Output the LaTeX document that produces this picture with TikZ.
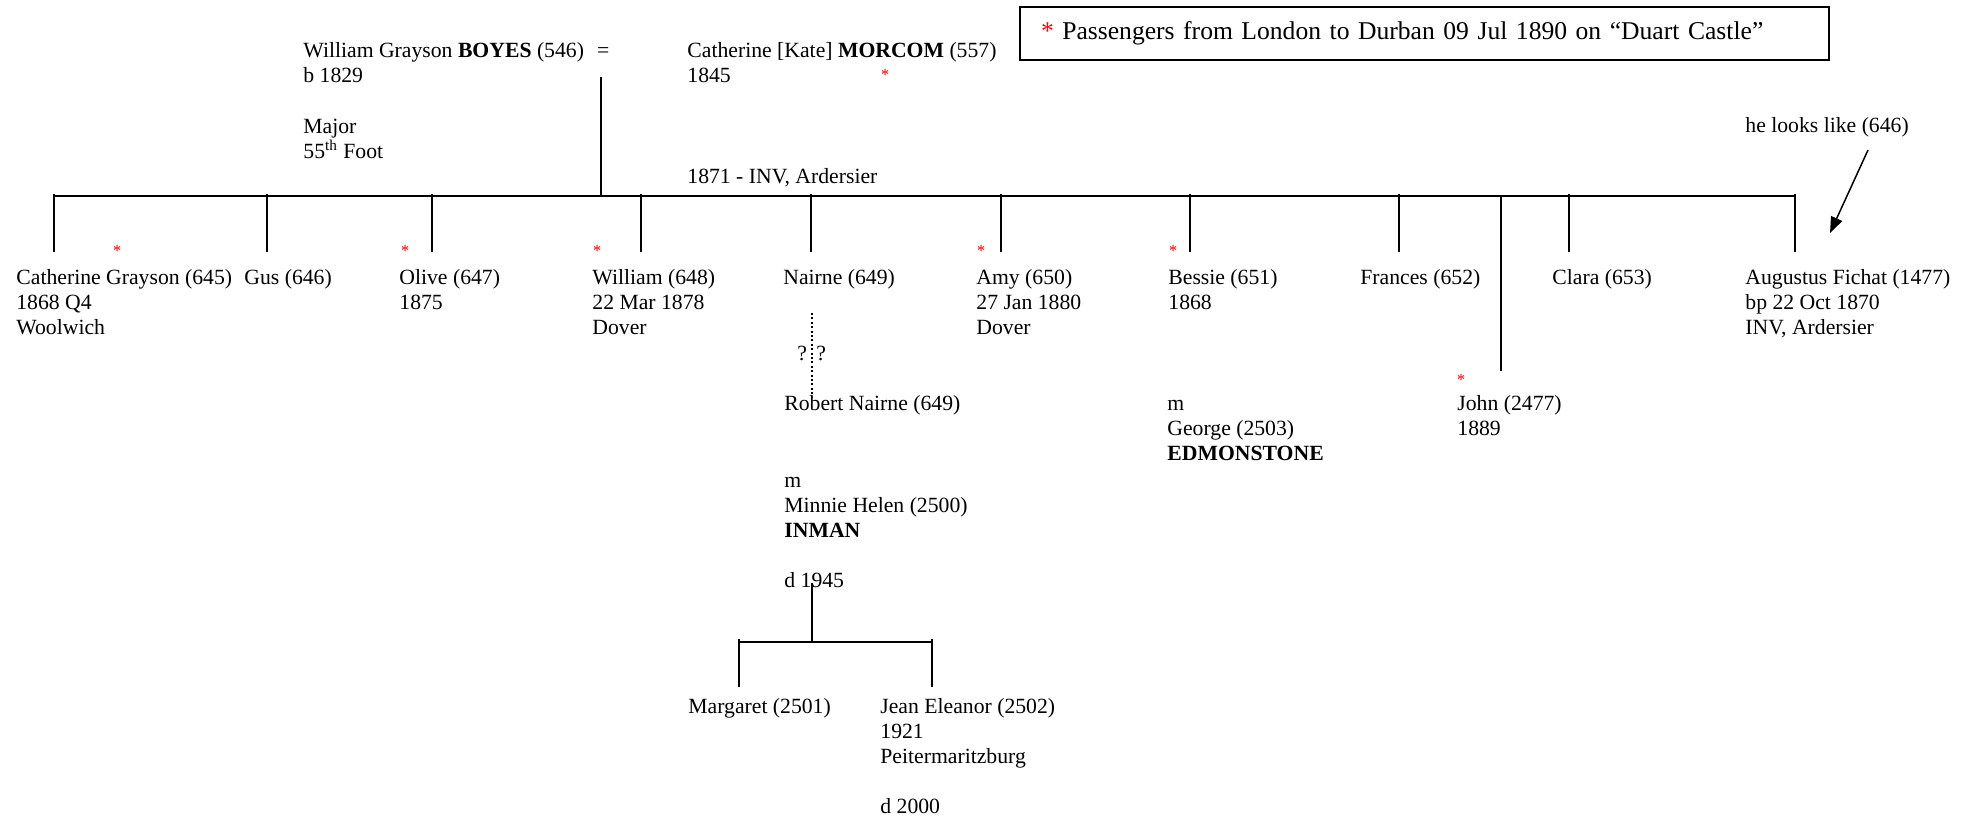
\documentclass[tikz,border=0pt]{standalone}
\usepackage{fontspec}
\setmainfont{Liberation Serif}
\usetikzlibrary{arrows.meta}
\definecolor{starcol}{RGB}{255,0,0}

\begin{document}
\begin{tikzpicture}[x=0.5pt, y=-0.5pt,
  person/.style={anchor=base west, inner sep=0pt, align=left, font=\fontsize{10.85}{12.5}\selectfont},
  passenger/.style={anchor=base, inner sep=0pt, text=starcol, font=\fontsize{8.5}{9}\selectfont},
  famline/.style={line width=1pt},
  keybox/.style={draw, line width=1pt, anchor=west, inner xsep=10.5pt, inner ysep=0pt, align=left,
    text width=383.5pt, minimum height=26.7pt, font=\fontsize{12.8}{14}\selectfont}]
\useasboundingbox (0,0) rectangle (1971,821);

% parents (a node sits on the baseline of its last line)
\node[person] (boyes) at (303,82) {William Grayson \textbf{BOYES} (546)\hspace{0.6em}=\\b 1829};
\node[person] (major) at (303,158) {Major\\55\textsuperscript{th} Foot};
\node[person] (morcom) at (687,82) {Catherine [Kate] \textbf{MORCOM} (557)\\1845};
\node[passenger] (star-morcom) at (885,80) {*};
\node[person] (wedding) at (687,183) {1871 - INV, Ardersier};

% key
\node[keybox] (key) at (1019,33.5) {\textcolor{starcol}{*} Passengers from London to Durban 09 Jul 1890 on “Duart Castle”};

% children
\node[person] (cath) at (16,334) {Catherine Grayson (645)\\1868 Q4\\Woolwich};
\node[person] (gus) at (244,284) {Gus (646)};
\node[person] (olive) at (399,309) {Olive (647)\\1875};
\node[person] (will) at (592,334) {William (648)\\22 Mar 1878\\Dover};
\node[person] (nairne) at (783,284) {Nairne (649)};
\node[person] (amy) at (976,334) {Amy (650)\\27 Jan 1880\\Dover};
\node[person] (bessie) at (1168,309) {Bessie (651)\\1868};
\node[person] (frances) at (1360,284) {Frances (652)};
\node[person] (clara) at (1552,284) {Clara (653)};
\node[person] (aug) at (1745,334) {Augustus Fichat (1477)\\bp 22 Oct 1870\\INV, Ardersier};
\node[person] (lookslike) at (1745,132) {he looks like (646)};
\node[person] (john) at (1457,435) {John (2477)\\1889};
\node[person] (george) at (1167,460) {m\\George (2503)\\\textbf{EDMONSTONE}};

% passengers
\node[passenger] (star-cath) at (117,256) {*};
\node[passenger] (star-olive) at (405,256) {*};
\node[passenger] (star-will) at (597,256) {*};
\node[passenger] (star-amy) at (981,256) {*};
\node[passenger] (star-bessie) at (1173,256) {*};
\node[passenger] (star-john) at (1461,385) {*};

% Nairne line
\node[person] (query) at (797,360) {?\hspace{4.7pt}?};
\node[person] (robert) at (784,410) {Robert Nairne (649)};
\node[person] (minnie) at (784,587) {m\\Minnie Helen (2500)\\\textbf{INMAN}\\[12.5pt]d 1945};
\node[person] (marg) at (688,713) {Margaret (2501)};
\node[person] (jean) at (880,813) {Jean Eleanor (2502)\\1921\\Peitermaritzburg\\[12.5pt]d 2000};

% family lines
\coordinate (parents) at (601,77);
\coordinate (barL) at (54,196);
\coordinate (barR) at (1795,196);
\draw[famline] (parents) -- (parents |- barL);
\draw[famline] (barL) -- (barR);
\foreach \who/\x in {cath/54, gus/267, olive/432, will/641, nairne/811, amy/1001, bessie/1190,
    frances/1399, clara/1569, aug/1795} {
  \coordinate (\who-top) at (\x,252);
  \draw[famline] (\who-top |- barL) ++(0,-2) -- (\who-top);
}
\coordinate (john-top) at (1501,371);
\draw[famline] (john-top |- barL) -- (john-top);

\coordinate (nairne-down) at (812,313);
\coordinate (robert-up) at (812,397);
\draw[line width=0.8pt, dash pattern=on 1pt off 1.2pt] (nairne-down) -- (robert-up);

\coordinate (minnie-down) at (812,583);
\coordinate (subL) at (739,642);
\coordinate (subR) at (932,642);
\coordinate (marg-top) at (739,687);
\coordinate (jean-top) at (932,687);
\draw[famline] (minnie-down) -- (minnie-down |- subL);
\draw[famline] (subL) -- (subR);
\draw[famline] (subL) ++(0,-3) -- (marg-top);
\draw[famline] (subR) ++(0,-3) -- (jean-top);

% look-alike arrow
\coordinate (look-from) at (1868,150);
\coordinate (look-to) at (1830,233);
\draw[line width=0.75pt, -{Triangle[length=8pt, width=6pt]}] (look-from) -- (look-to);
\end{tikzpicture}
\end{document}
